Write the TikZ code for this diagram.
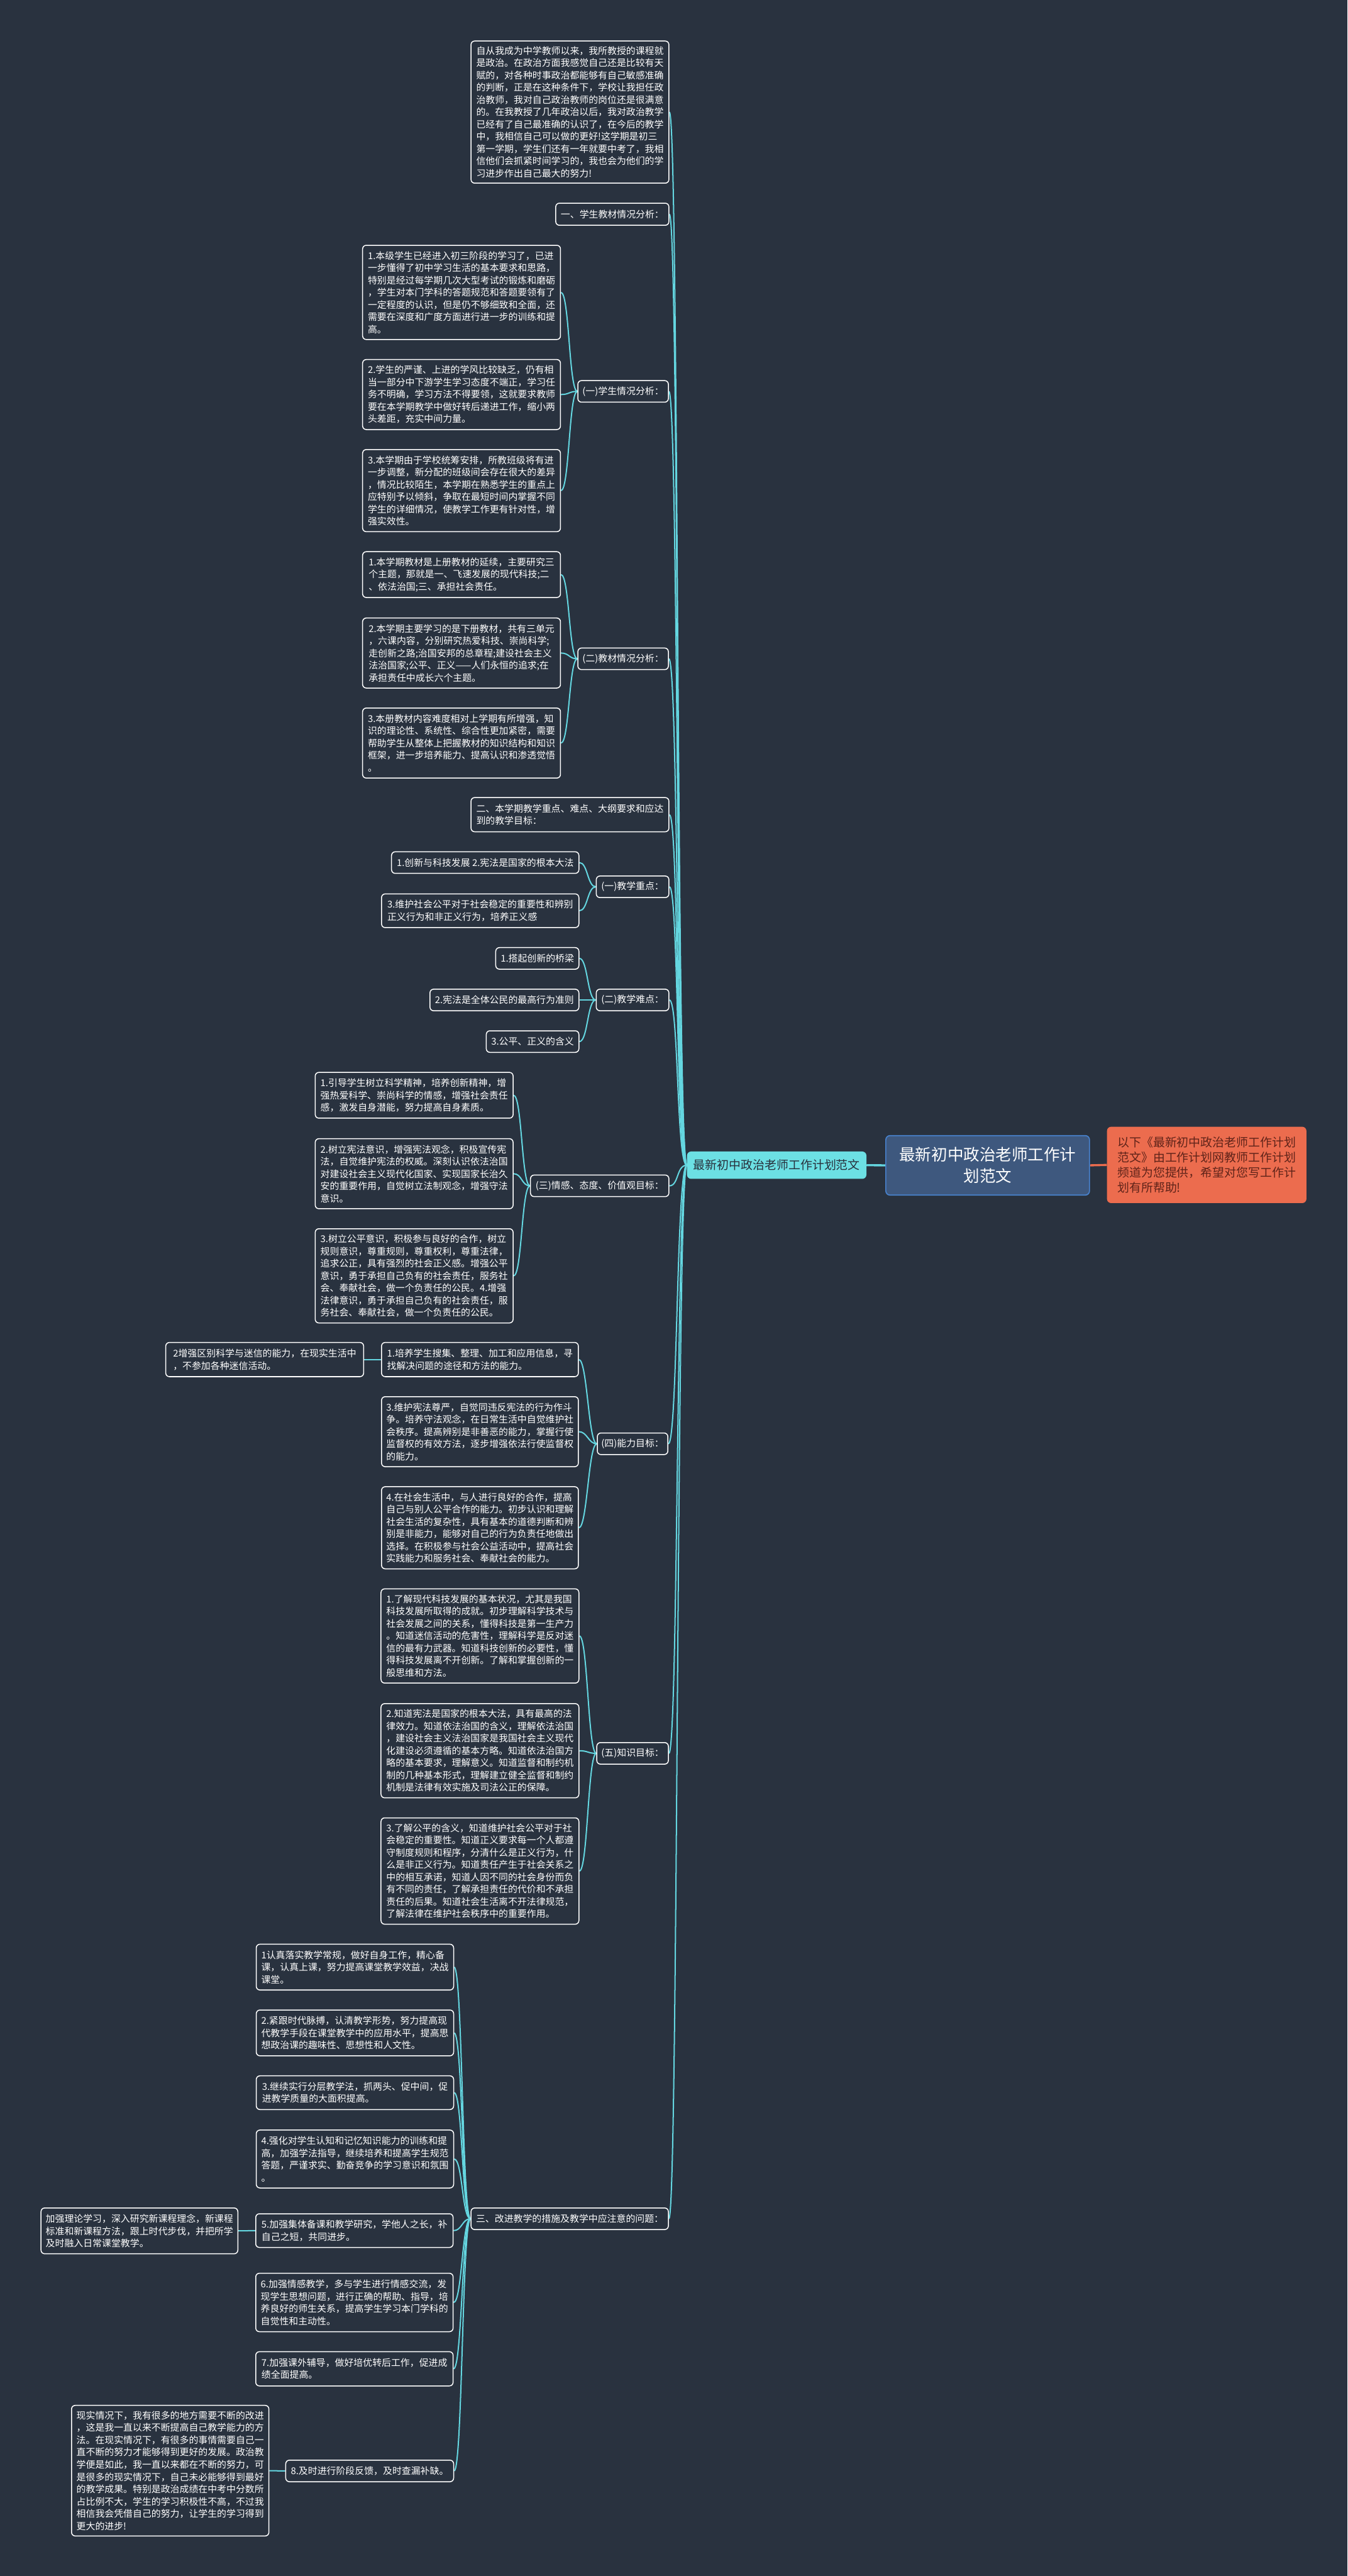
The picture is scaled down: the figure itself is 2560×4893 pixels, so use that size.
\documentclass[tikz,border=0pt]{standalone}
\usepackage{fontspec}
\setmainfont{Noto Sans CJK SC}
\definecolor{bgc}{RGB}{41,50,63}
\definecolor{edgec}{RGB}{100,214,224}
\definecolor{rootc}{RGB}{62,88,126}
\definecolor{rootb}{RGB}{72,130,205}
\definecolor{subc}{RGB}{108,224,228}
\definecolor{subt}{RGB}{40,48,60}
\definecolor{orc}{RGB}{236,108,78}
\definecolor{ort}{RGB}{95,35,25}
\newcommand{\fsn}{\fontsize{17.8pt}{23.3pt}\selectfont}
\newcommand{\fsr}{\fontsize{22.6pt}{29pt}\selectfont}
\newcommand{\fsm}{\fontsize{30.5pt}{41pt}\selectfont}
\pgfdeclarelayer{bglayer}
\pgfdeclarelayer{edgelayer}
\pgfsetlayers{bglayer,edgelayer,main}
\tikzset{
  leaf/.style={draw=white, line width=1.8pt, rounded corners=7pt, fill=bgc, text=white,
    font=\fsn, align=left, inner xsep=0pt, inner ysep=0pt, anchor=north west},
  edge/.style={draw=edgec, line width=2.4pt},
}
\newcommand{\leafnode}[6]{\node[leaf, minimum width=#4pt, minimum height=#5pt] (#1) at (#2,#3) {#6};}
\newcommand{\lnk}[2]{\begin{pgfonlayer}{edgelayer}\draw[edge] (#1.west) .. controls +(-16,0) and +(16,0) .. (#2.east);\end{pgfonlayer}}
\newcommand{\rlnk}[1]{\begin{pgfonlayer}{edgelayer}\draw[edge] (R.west) .. controls +(-20,0) and +(18,0) .. (#1.east);\end{pgfonlayer}}
\begin{document}
\begin{tikzpicture}[x=1pt,y=-1pt]
\begin{pgfonlayer}{bglayer}
\fill[bgc] (0,0) rectangle (2560,4893);
\end{pgfonlayer}
\useasboundingbox (0,0) rectangle (2560,4893);

% root and side
\node[draw=rootb, line width=2pt, rounded corners=8pt, fill=rootc, text=white, font=\fsm, align=center,
  minimum width=387pt, minimum height=113pt, anchor=north west, inner sep=0pt] (M) at (1682,2156)
  {最新初中政治老师工作计\\划范文};
\node[rounded corners=8pt, fill=subc, text=subt, font=\fsr, minimum width=341pt, minimum height=52pt,
  anchor=north west, inner sep=0pt] (R) at (1305,2187) {最新初中政治老师工作计划范文};
\node[rounded corners=8pt, fill=orc, text=ort, font=\fsr, align=left, minimum width=379pt, minimum height=145pt,
  anchor=north west, inner sep=0pt] (O) at (2103,2140)
  {以下《最新初中政治老师工作计划\\范文》由工作计划网教师工作计划\\频道为您提供，希望对您写工作计\\划有所帮助!};
\begin{pgfonlayer}{edgelayer}
\draw[edgec, line width=4pt] (M.west) -- (R.east);
\draw[orc, line width=4pt] (M.east) -- (O.west);
\end{pgfonlayer}

% level 1
\leafnode{intro}{894}{77}{376}{270}{自从我成为中学教师以来，我所教授的课程就\\是政治。在政治方面我感觉自己还是比较有天\\赋的，对各种时事政治都能够有自己敏感准确\\的判断，正是在这种条件下，学校让我担任政\\治教师，我对自己政治教师的岗位还是很满意\\的。在我教授了几年政治以后，我对政治教学\\已经有了自己最准确的认识了，在今后的教学\\中，我相信自己可以做的更好!这学期是初三\\第一学期，学生们还有一年就要中考了，我相\\信他们会抓紧时间学习的，我也会为他们的学\\习进步作出自己最大的努力!}
\leafnode{h1}{1055}{385}{215}{42}{一、学生教材情况分析：}
\leafnode{s1}{1097}{722}{172}{41}{(一)学生情况分析：}
\leafnode{s2}{1097}{1230}{172}{41}{(二)教材情况分析：}
\leafnode{h2}{894}{1514}{376}{65}{二、本学期教学重点、难点、大纲要求和应达\\到的教学目标：}
\leafnode{s3}{1132}{1663}{138}{41}{(一)教学重点：}
\leafnode{s4}{1132}{1878}{138}{41}{(二)教学难点：}
\leafnode{s5}{1007}{2231}{263}{41}{(三)情感、态度、价值观目标：}
\leafnode{s6}{1134}{2721}{134}{41}{(四)能力目标：}
\leafnode{s7}{1133}{3309}{136}{41}{(五)知识目标：}
\leafnode{h3}{894}{4193}{375}{41}{三、改进教学的措施及教学中应注意的问题：}

% (一)学生情况分析
\leafnode{a1}{688}{465}{376}{179}{1.本级学生已经进入初三阶段的学习了，已进\\一步懂得了初中学习生活的基本要求和思路，\\特别是经过每学期几次大型考试的锻炼和磨砺\\，学生对本门学科的答题规范和答题要领有了\\一定程度的认识，但是仍不够细致和全面，还\\需要在深度和广度方面进行进一步的训练和提\\高。}
\leafnode{a2}{688}{682}{376}{133}{2.学生的严谨、上进的学风比较缺乏，仍有相\\当一部分中下游学生学习态度不端正，学习任\\务不明确，学习方法不得要领，这就要求教师\\要在本学期教学中做好转后递进工作，缩小两\\头差距，充实中间力量。}
\leafnode{a3}{688}{853}{376}{156}{3.本学期由于学校统筹安排，所教班级将有进\\一步调整，新分配的班级间会存在很大的差异\\，情况比较陌生，本学期在熟悉学生的重点上\\应特别予以倾斜，争取在最短时间内掌握不同\\学生的详细情况，使教学工作更有针对性，增\\强实效性。}

% (二)教材情况分析
\leafnode{b1}{688}{1047}{376}{87}{1.本学期教材是上册教材的延续，主要研究三\\个主题，那就是一、飞速发展的现代科技;二\\、依法治国;三、承担社会责任。}
\leafnode{b2}{688}{1173}{376}{133}{2.本学期主要学习的是下册教材，共有三单元\\，六课内容，分别研究热爱科技、崇尚科学;\\走创新之路;治国安邦的总章程;建设社会主义\\法治国家;公平、正义——人们永恒的追求;在\\承担责任中成长六个主题。}
\leafnode{b3}{688}{1344}{376}{133}{3.本册教材内容难度相对上学期有所增强，知\\识的理论性、系统性、综合性更加紧密，需要\\帮助学生从整体上把握教材的知识结构和知识\\框架，进一步培养能力、提高认识和渗透觉悟\\。}

% 教学重点 / 难点
\leafnode{c1}{743}{1617}{356}{41}{1.创新与科技发展 2.宪法是国家的根本大法}
\leafnode{c2}{724}{1697}{375}{64}{3.维护社会公平对于社会稳定的重要性和辨别\\正义行为和非正义行为，培养正义感}
\leafnode{d1}{941}{1799}{158}{41}{1.搭起创新的桥梁}
\leafnode{d2}{816}{1878}{283}{41}{2.宪法是全体公民的最高行为准则}
\leafnode{d3}{923}{1957}{176}{41}{3.公平、正义的含义}

% (三)情感
\leafnode{e1}{598}{2036}{376}{87}{1.引导学生树立科学精神，培养创新精神，增\\强热爱科学、崇尚科学的情感，增强社会责任\\感，激发自身潜能，努力提高自身素质。}
\leafnode{e2}{598}{2162}{376}{133}{2.树立宪法意识，增强宪法观念，积极宣传宪\\法，自觉维护宪法的权威。深刻认识依法治国\\对建设社会主义现代化国家、实现国家长治久\\安的重要作用，自觉树立法制观念，增强守法\\意识。}
\leafnode{e3}{598}{2333}{376}{179}{3.树立公平意识，积极参与良好的合作，树立\\规则意识，尊重规则，尊重权利，尊重法律，\\追求公正，具有强烈的社会正义感。增强公平\\意识，勇于承担自己负有的社会责任，服务社\\会、奉献社会，做一个负责任的公民。4.增强\\法律意识，勇于承担自己负有的社会责任，服\\务社会、奉献社会，做一个负责任的公民。}

% (四)能力目标
\leafnode{f1}{724}{2549}{374}{65}{1.培养学生搜集、整理、加工和应用信息，寻\\找解决问题的途径和方法的能力。}
\leafnode{ff}{314}{2549}{376}{65}{2增强区别科学与迷信的能力，在现实生活中\\，不参加各种迷信活动。}
\leafnode{f3}{724}{2652}{374}{133}{3.维护宪法尊严，自觉同违反宪法的行为作斗\\争。培养守法观念，在日常生活中自觉维护社\\会秩序。提高辨别是非善恶的能力，掌握行使\\监督权的有效方法，逐步增强依法行使监督权\\的能力。}
\leafnode{f4}{724}{2823}{374}{156}{4.在社会生活中，与人进行良好的合作，提高\\自己与别人公平合作的能力。初步认识和理解\\社会生活的复杂性，具有基本的道德判断和辨\\别是非能力，能够对自己的行为负责任地做出\\选择。在积极参与社会公益活动中，提高社会\\实践能力和服务社会、奉献社会的能力。}

% (五)知识目标
\leafnode{g1}{723}{3017}{376}{179}{1.了解现代科技发展的基本状况，尤其是我国\\科技发展所取得的成就。初步理解科学技术与\\社会发展之间的关系，懂得科技是第一生产力\\。知道迷信活动的危害性，理解科学是反对迷\\信的最有力武器。知道科技创新的必要性，懂\\得科技发展离不开创新。了解和掌握创新的一\\般思维和方法。}
\leafnode{g2}{723}{3235}{376}{179}{2.知道宪法是国家的根本大法，具有最高的法\\律效力。知道依法治国的含义，理解依法治国\\，建设社会主义法治国家是我国社会主义现代\\化建设必须遵循的基本方略。知道依法治国方\\略的基本要求，理解意义。知道监督和制约机\\制的几种基本形式，理解建立健全监督和制约\\机制是法律有效实施及司法公正的保障。}
\leafnode{g3}{723}{3452}{376}{202}{3.了解公平的含义，知道维护社会公平对于社\\会稳定的重要性。知道正义要求每一个人都遵\\守制度规则和程序，分清什么是正义行为，什\\么是非正义行为。知道责任产生于社会关系之\\中的相互承诺，知道人因不同的社会身份而负\\有不同的责任，了解承担责任的代价和不承担\\责任的后果。知道社会生活离不开法律规范，\\了解法律在维护社会秩序中的重要作用。}

% 三、改进
\leafnode{k1}{486}{3692}{375}{87}{1认真落实教学常规，做好自身工作，精心备\\课，认真上课，努力提高课堂教学效益，决战\\课堂。}
\leafnode{k2}{486}{3817}{375}{87}{2.紧跟时代脉搏，认清教学形势，努力提高现\\代教学手段在课堂教学中的应用水平，提高思\\想政治课的趣味性、思想性和人文性。}
\leafnode{k3}{486}{3942}{375}{64}{3.继续实行分层教学法，抓两头、促中间，促\\进教学质量的大面积提高。}
\leafnode{k4}{486}{4045}{375}{110}{4.强化对学生认知和记忆知识能力的训练和提\\高，加强学法指导，继续培养和提高学生规范\\答题，严谨求实、勤奋竞争的学习意识和氛围\\。}
\leafnode{k5}{485}{4204}{375}{64}{5.加强集体备课和教学研究，学他人之长，补\\自己之短，共同进步。}
\leafnode{k5f}{77}{4193}{374}{87}{加强理论学习，深入研究新课程理念，新课程\\标准和新课程方法，跟上时代步伐，并把所学\\及时融入日常课堂教学。}
\leafnode{k6}{485}{4317}{375}{111}{6.加强情感教学，多与学生进行情感交流，发\\现学生思想问题，进行正确的帮助、指导，培\\养良好的师生关系，提高学生学习本门学科的\\自觉性和主动性。}
\leafnode{k7}{485}{4466}{375}{65}{7.加强课外辅导，做好培优转后工作，促进成\\绩全面提高。}
\leafnode{k8}{542}{4672}{319}{41}{8.及时进行阶段反馈，及时查漏补缺。}
\leafnode{k8f}{135}{4568}{375}{248}{现实情况下，我有很多的地方需要不断的改进\\，这是我一直以来不断提高自己教学能力的方\\法。在现实情况下，有很多的事情需要自己一\\直不断的努力才能够得到更好的发展。政治教\\学便是如此，我一直以来都在不断的努力，可\\是很多的现实情况下，自己未必能够得到最好\\的教学成果。特别是政治成绩在中考中分数所\\占比例不大，学生的学习积极性不高，不过我\\相信我会凭借自己的努力，让学生的学习得到\\更大的进步!}

% connectors from R
\rlnk{intro}\rlnk{h1}\rlnk{s1}\rlnk{s2}\rlnk{h2}\rlnk{s3}\rlnk{s4}\rlnk{s5}\rlnk{s6}\rlnk{s7}\rlnk{h3}
% sub connectors
\lnk{s1}{a1}\lnk{s1}{a2}\lnk{s1}{a3}
\lnk{s2}{b1}\lnk{s2}{b2}\lnk{s2}{b3}
\lnk{s3}{c1}\lnk{s3}{c2}
\lnk{s4}{d1}\lnk{s4}{d2}\lnk{s4}{d3}
\lnk{s5}{e1}\lnk{s5}{e2}\lnk{s5}{e3}
\lnk{s6}{f1}\lnk{s6}{f3}\lnk{s6}{f4}
\lnk{f1}{ff}
\lnk{s7}{g1}\lnk{s7}{g2}\lnk{s7}{g3}
\lnk{h3}{k1}\lnk{h3}{k2}\lnk{h3}{k3}\lnk{h3}{k4}\lnk{h3}{k5}\lnk{h3}{k6}\lnk{h3}{k7}\lnk{h3}{k8}
\lnk{k5}{k5f}
\lnk{k8}{k8f}
\end{tikzpicture}
\end{document}
